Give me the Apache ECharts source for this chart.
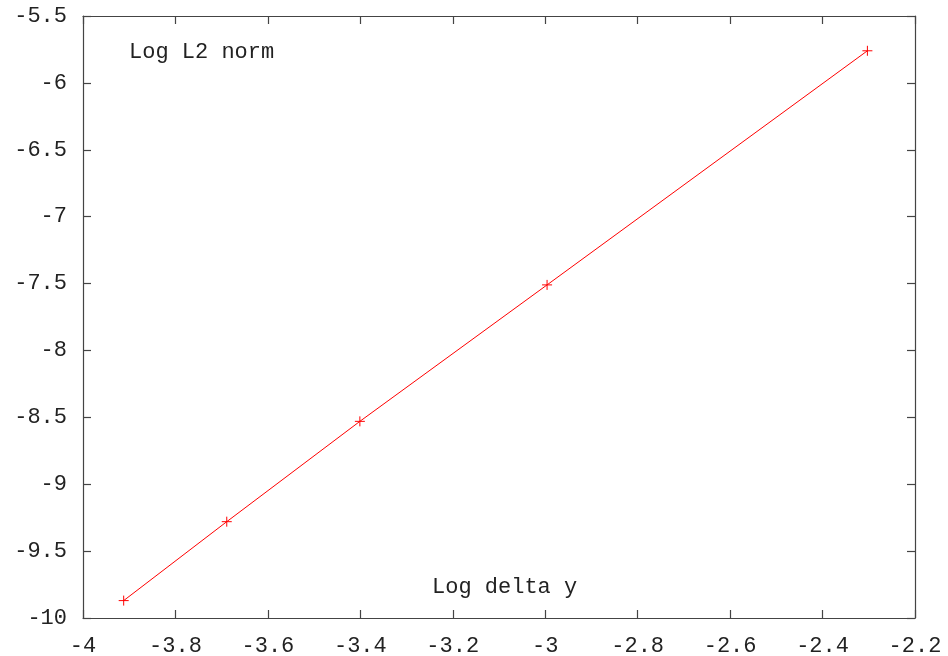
<!DOCTYPE html>
<html>
<head>
<meta charset="utf-8">
<script src="https://cdn.jsdelivr.net/npm/echarts@6/dist/echarts.min.js"></script>
<style>
  html, body { margin: 0; padding: 0; background: #ffffff; }
  #chart { width: 948px; height: 656px; }
</style>
</head>
<body>
<div id="chart"></div>
<script>
// Convergence: log of L2 error norm against log of grid spacing
const logDeltaY = [-3.912, -3.689, -3.401, -2.996, -2.303];
const logL2Norm = [-9.87, -9.28, -8.53, -7.51, -5.76];

const xTicks = { min: -4, max: -2.2, interval: 0.2 };
const yTicks = { min: -10, max: -5.5, interval: 0.5 };

const seriesLabel = 'Log L2 norm';
const xLabel = 'Log delta y';

const FONT = 'Liberation Mono';
const FONT_SIZE = 22;
const AXIS_COLOR = '#444444';
const TEXT_COLOR = '#222222';

const fmt = v => String(Math.round(v * 10) / 10);

function axisBase(extra) {
  return Object.assign({
    type: 'value',
    axisLine: { show: true, onZero: false, lineStyle: { color: AXIS_COLOR, width: 1.2 } },
    axisTick: { show: true, inside: true, length: 8, lineStyle: { color: AXIS_COLOR, width: 1.2 } },
    splitLine: { show: false },
    axisLabel: { show: false }
  }, extra);
}

const chart = echarts.init(document.getElementById('chart'), null, { renderer: 'canvas' });

chart.setOption({
  animation: false,
  backgroundColor: '#ffffff',
  grid: { left: 83, right: 33, top: 16, bottom: 38, containLabel: false, outerBoundsMode: 'none' },
  xAxis: [
    axisBase({
      position: 'bottom', min: xTicks.min, max: xTicks.max, interval: xTicks.interval,
      axisLabel: { show: true, formatter: fmt, fontFamily: FONT, fontSize: FONT_SIZE, color: TEXT_COLOR, margin: 17 }
    }),
    axisBase({ position: 'top', min: xTicks.min, max: xTicks.max, interval: xTicks.interval })
  ],
  yAxis: [
    axisBase({
      position: 'left', min: yTicks.min, max: yTicks.max, interval: yTicks.interval,
      axisLabel: { show: true, formatter: fmt, fontFamily: FONT, fontSize: FONT_SIZE, color: TEXT_COLOR, margin: 16 }
    }),
    axisBase({ position: 'right', min: yTicks.min, max: yTicks.max, interval: yTicks.interval })
  ],
  graphic: [
    { type: 'text', x: 129, y: 52, style: { text: seriesLabel, font: FONT_SIZE + 'px "Liberation Mono"', fill: TEXT_COLOR, verticalAlign: 'middle' } },
    { type: 'text', x: 432, y: 587, style: { text: xLabel, font: FONT_SIZE + 'px "Liberation Mono"', fill: TEXT_COLOR, verticalAlign: 'middle' } }
  ],
  series: [{
    type: 'line',
    xAxisIndex: 0,
    yAxisIndex: 0,
    data: logDeltaY.map((x, i) => [x, logL2Norm[i]]),
    lineStyle: { color: '#ff0000', width: 1 },
    symbol: 'path://M0,5L10,5M5,0L5,10',
    symbolSize: 10,
    showSymbol: true,
    itemStyle: { color: 'none', borderColor: '#ff0000', borderWidth: 1 }
  }]
});
</script>
</body>
</html>
